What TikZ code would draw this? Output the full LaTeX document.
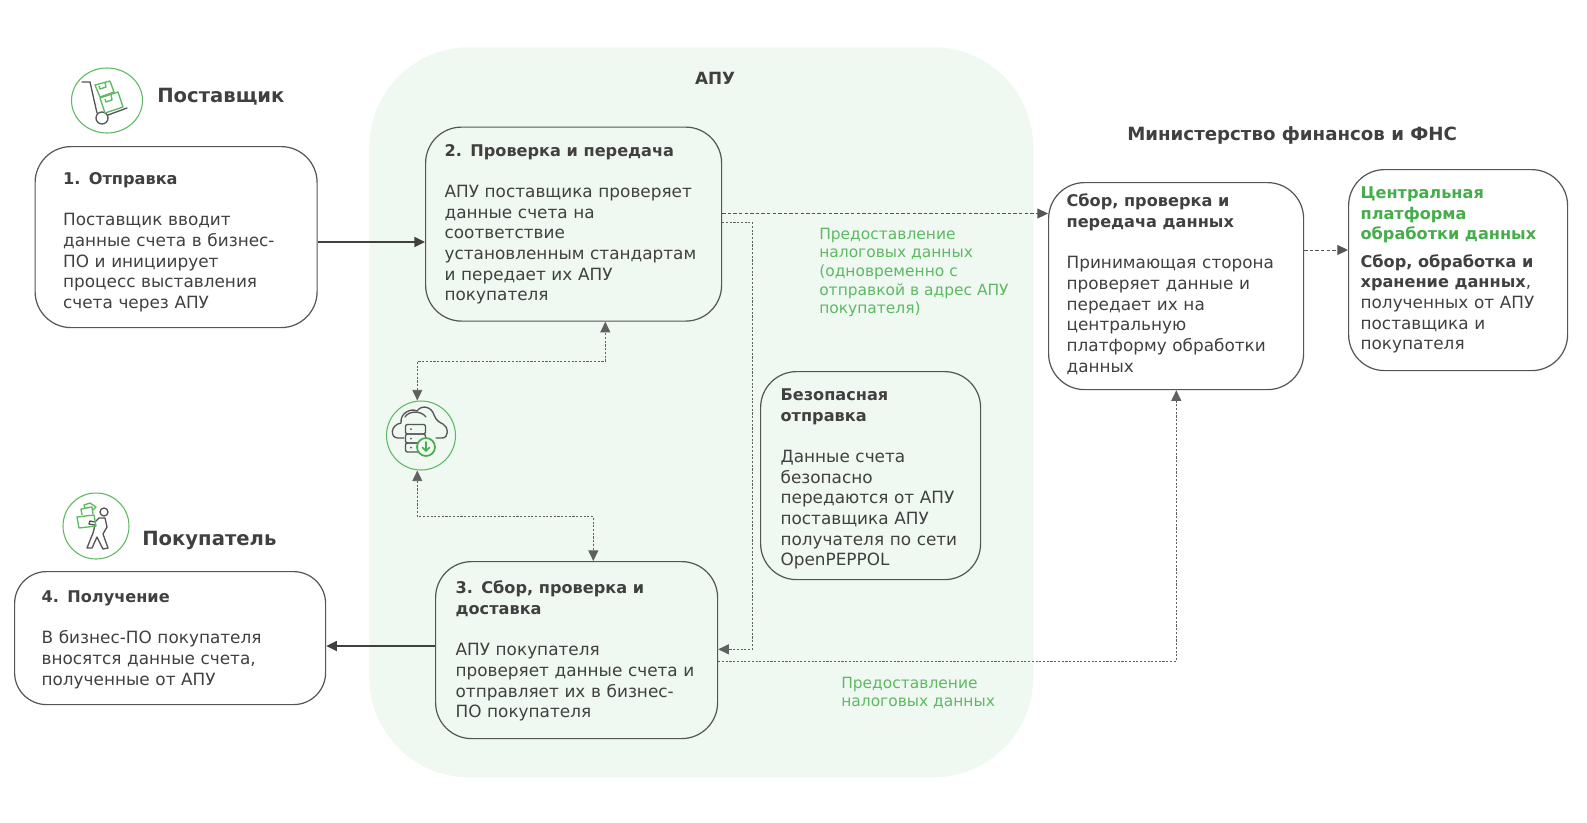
\documentclass[tikz,border=0pt]{standalone}
\usepackage{fontspec}
\usetikzlibrary{arrows.meta,shapes.geometric}
\setmainfont{DejaVu Sans}
\definecolor{bgreen}{HTML}{F0F8F2}
\definecolor{ink}{HTML}{404040}
\definecolor{lnk}{HTML}{555555}
\definecolor{dotc}{HTML}{606060}
\definecolor{grn}{HTML}{5DB962}
\definecolor{grnb}{HTML}{46AD4C}
\tikzset{
  x=0.75pt,y=-0.75pt,
  body/.style={font=\fontsize{12.65pt}{15.5pt}\selectfont,text=ink},
  flow/.style={draw=lnk,rounded corners=#1,line width=0.9pt,align=left,anchor=north west,body},
  flow/.default=27pt,
  bsize/.style n args={3}{minimum width=#1*0.75pt,minimum height=#2*0.75pt,inner ysep=0pt,inner xsep=#3*0.75pt,text width=(#1-2*#3)*0.75pt},
  head/.style={font=\fontsize{14.7pt}{18pt}\selectfont\bfseries,text=ink},
  note/.style={font=\fontsize{11.6pt}{14pt}\selectfont,text=grn,align=left,anchor=west,inner sep=0pt},
  solidarrow/.style={draw=ink,line width=1.3pt,-{Triangle[length=8pt,width=7.5pt]}},
  dasharrow/.style={draw=lnk,line width=0.7pt,dash pattern=on 2.6pt off 1.6pt,-{Triangle[length=8pt,width=7.5pt]}},
  dotarrow/.style={draw=dotc,line width=0.7pt,dash pattern=on 1.6pt off 1.2pt},
  tip/.style={-{Triangle[length=8pt,width=7.5pt]}},
  tips/.style={{Triangle[length=8pt,width=7.5pt]}-{Triangle[length=8pt,width=7.5pt]}},
  iconring/.style={draw=grn,line width=0.8pt,circle,fill=none,inner sep=0pt},
  gicon/.style={draw=grn,line width=1pt,line join=round},
  kicon/.style={draw=lnk,line width=1pt,line join=round,line cap=round},
}
\newcommand{\bt}[1]{{\fontsize{12.1pt}{15.5pt}\selectfont\bfseries #1}}
\newcommand{\gap}{\\[15.5pt]}
\newcommand{\dn}[1]{\rule{0pt}{#1}}
\begin{document}
\begin{tikzpicture}
\useasboundingbox (0,0) rectangle (1587,822);
\fill[white] (0,0) rectangle (1587,822);
% APU region
\node[fill=bgreen,rounded corners=75pt,anchor=north west,minimum width=664*0.75pt,minimum height=730*0.75pt,inner sep=0pt] (apu) at (369,47) {};
\node[head,font=\fontsize{12.6pt}{15pt}\selectfont\bfseries] (apulabel) at (715,78) {АПУ};
% Headings
\node[head,anchor=west,inner sep=0pt] (supplier) at (157,97) {Поставщик};
\node[head,anchor=west,inner sep=0pt] (buyer) at (142,540) {Покупатель};
\node[head,anchor=west,inner sep=0pt,font=\fontsize{13.65pt}{16pt}\selectfont\bfseries] (minfin) at (1127,135) {Министерство финансов и ФНС};
% Boxes
\node[flow,bsize={282}{181}{28}] (b1) at (34.5,146) {\dn{16.5pt}\bt{1. Отправка}\gap Поставщик вводит\\данные счета в бизнес-\\ПО и инициирует\\процесс выставления\\счета через АПУ};
\node[flow,bsize={296}{194}{19}] (b2) at (425,126.5) {\bt{2. Проверка и передача}\gap АПУ поставщика проверяет\\данные счета на\\соответствие\\установленным стандартам\\и передает их АПУ\\покупателя};
\node[flow,bsize={282}{177}{20}] (b3) at (435,561) {\dn{11.2pt}\bt{3. Сбор, проверка и}\\\bt{доставка}\gap АПУ покупателя\\проверяет данные счета и\\отправляет их в бизнес-\\ПО покупателя};
\node[flow=24pt,bsize={311}{133}{27}] (b4) at (14,571) {\dn{11.2pt}\bt{4. Получение}\gap В бизнес-ПО покупателя\\вносятся данные счета,\\полученные от АПУ};
\node[flow,bsize={220}{208}{20}] (safe) at (760,371) {\dn{14.2pt}\bt{Безопасная}\\\bt{отправка}\gap Данные счета\\безопасно\\передаются от АПУ\\поставщика АПУ\\получателя по сети\\OpenPEPPOL};
\node[flow,bsize={255}{207}{18}] (collect) at (1048,182) {\bt{Сбор, проверка и}\\\bt{передача данных}\gap Принимающая сторона\\проверяет данные и\\передает их на\\центральную\\платформу обработки\\данных\vspace{3pt}};
\node[flow,bsize={219}{201}{12}] (central) at (1348,169) {\textcolor{grnb}{\bt{Центральная}}\\\textcolor{grnb}{\bt{платформа}}\\\textcolor{grnb}{\bt{обработки данных}}\\[5pt]\bt{Сбор, обработка и}\\\bt{хранение данных},\\полученных от АПУ\\поставщика и\\покупателя};
% Icon rings
\node[iconring,minimum size=69*0.75pt] (icloud) at (421,435.5) {};
\node[draw=grn,line width=0.8pt,ellipse,inner sep=0pt,minimum width=71*0.75pt,minimum height=65*0.75pt] (itrolley) at (107,100.5) {};
\node[iconring,minimum size=66*0.75pt] (iperson) at (96,526) {};
% Green notes
\node[note] (n1) at (819,272.5) {Предоставление\\налоговых данных\\(одновременно с\\отправкой в адрес АПУ\\покупателя)};
\node[note] (n2) at (841,693) {Предоставление\\налоговых данных};
% Connector helpers
\coordinate (ya) at (0,242);
\coordinate (yb) at (0,646);
\coordinate (yc) at (0,213.5);
\coordinate (yd) at (0,222.3);
\coordinate (ye) at (0,649.3);
\coordinate (yf) at (0,661.3);
\coordinate (yg) at (0,250);
\coordinate (xa) at (752.3,0);
\coordinate (xb) at (1176.3,0);
\coordinate (up1) at (417.3,361.3);
\coordinate (up2) at (605.3,361.3);
\coordinate (dn1) at (417.3,516.3);
\coordinate (dn2) at (593.3,516.3);
% Connectors
\draw[solidarrow] (b1.east|-ya) -- (b2.west|-ya);
\draw[solidarrow] (b3.west|-yb) -- (b4.east|-yb);
\draw[dasharrow] (b2.east|-yc) -- (collect.west|-yc);
\draw[dotarrow,tip] (b2.east|-yd) -- (xa|-yd) -- (xa|-ye) -- (b3.east|-ye);
\draw[dotarrow,tip] (b3.east|-yf) -- (xb|-yf) -- (collect.south-|xb);
\draw[dasharrow] (collect.east|-yg) -- (central.west|-yg);
\draw[dotarrow,tips] (icloud.north-|up1) -- (up1) -- (up2) -- (b2.south-|up2);
\draw[dotarrow,tips] (icloud.south-|dn1) -- (dn1) -- (dn2) -- (b3.north-|dn2);
% Trolley icon
\draw[kicon] (82,82) -- (90,82) -- (97,113);
\draw[kicon] (102,118) circle[radius=6];
\draw[kicon] (108,115) -- (127,108);
\draw[gicon] (95,85) -- (110,81) -- (114,92) -- (100,97) -- cycle;
\draw[gicon] (100,98) -- (118,92) -- (123,107) -- (105,113) -- cycle;
\draw[gicon] (99,86) -- (100,89) -- (106,87) -- (105,83);
\draw[gicon] (105,99) -- (106,102) -- (112,100) -- (111,94);
% Cloud icon
\draw[kicon] (404,438) -- (398,438) .. controls (390,438) and (390,425) .. (401,423) .. controls (400,412) and (412,408) .. (417,411) .. controls (422,404) and (432,407) .. (434,415) .. controls (436,421) and (441,423) .. (443,424) .. controls (449,427) and (449,438) .. (442,438) -- (436,438);
\draw[kicon] (405,417) .. controls (408,411) and (421,410) .. (426,417);
\draw[kicon,rounded corners=1.5pt] (405.5,424.5) rectangle (425.5,434);
\draw[kicon,rounded corners=1.5pt] (405.5,434) rectangle (425.5,443);
\draw[kicon,rounded corners=1.5pt] (405.5,443) rectangle (425.5,452);
\fill[lnk] (411,429) circle[radius=1] (411,438.5) circle[radius=1] (411,447.5) circle[radius=1];
\draw[fill=bgreen,draw=grnb,line width=1.3pt] (426,447) circle[radius=9];
\draw[draw=grnb,line width=1.2pt,line cap=round,line join=round] (426,442) -- (426,451) (422.5,447.5) -- (426,451) -- (429.5,447.5);
% Person icon
\draw[kicon] (104,512) circle[radius=4];
\draw[kicon] (99,518) -- (105,518) -- (107,527) -- (103,534) -- (108,548) -- (103,549) -- (97,537) -- (92,548) -- (87,548) -- (93,533) -- (95,525) -- (89,524) -- (90,521) -- (95,522) -- cycle;
\draw[gicon] (77,517) -- (94,515) -- (96,526) -- (79,528) -- cycle;
\draw[gicon] (82,515) -- (81,509) -- (92,507) -- (93,514);
\draw[gicon] (85,508) -- (84,505) -- (90,503) -- (96,507) -- (93,510);
\end{tikzpicture}
\end{document}
